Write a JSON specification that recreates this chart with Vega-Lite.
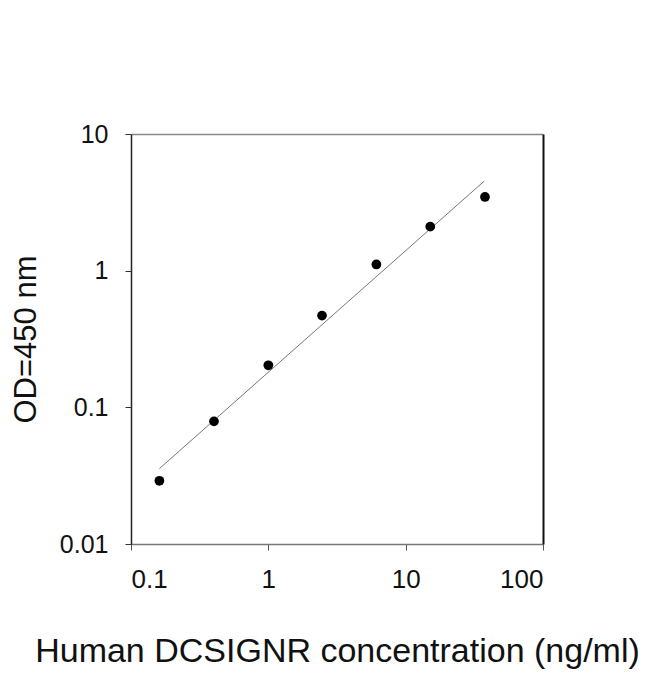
{
  "$schema": "https://vega.github.io/schema/vega-lite/v6.json",
  "width": 412,
  "height": 410,
  "autosize": {"type": "none"},
  "padding": {"left": 131, "top": 134, "right": 107, "bottom": 130},
  "background": "white",
  "config": {
    "view": {"stroke": null},
    "font": "Liberation Sans",
    "axis": {"grid": false, "labelFont": "Liberation Sans", "titleFont": "Liberation Sans", "labelColor": "#111", "titleColor": "#111", "titleFontWeight": "normal"}
  },
  "datasets": {
    "standards": [
      {"conc": 0.161, "od": 0.029},
      {"conc": 0.402, "od": 0.079},
      {"conc": 1.0, "od": 0.203},
      {"conc": 2.46, "od": 0.469},
      {"conc": 6.12, "od": 1.11},
      {"conc": 15.1, "od": 2.1},
      {"conc": 37.8, "od": 3.46}
    ],
    "fit": [
      {"conc": 0.161, "od": 0.0356},
      {"conc": 37.4, "od": 4.53}
    ]
  },
  "layer": [
    {
      "data": {"name": "fit"},
      "mark": {"type": "line", "color": "#777", "strokeWidth": 1},
      "encoding": {
        "x": {
          "field": "conc", "type": "quantitative",
          "scale": {"type": "log", "domain": [0.1, 100], "nice": false},
          "axis": {"orient": "top", "ticks": false, "labels": false, "title": null, "domainColor": "#888", "domainWidth": 1.5}
        },
        "y": {
          "field": "od", "type": "quantitative",
          "scale": {"type": "log", "domain": [0.01, 10], "nice": false},
          "axis": {"orient": "right", "ticks": false, "labels": false, "title": null, "domainColor": "#111", "domainWidth": 2}
        }
      }
    },
    {
      "data": {"name": "standards"},
      "mark": {"type": "circle", "color": "black", "opacity": 1, "size": 95},
      "encoding": {
        "x": {
          "field": "conc", "type": "quantitative",
          "scale": {"type": "log", "domain": [0.1, 100], "nice": false},
          "axis": {
            "orient": "bottom",
            "values": [0.1, 1, 10, 100],
            "format": "~g",
            "title": "Human DCSIGNR concentration (ng/ml)",
            "titleFontSize": 34,
            "titleBaseline": "alphabetic",
            "titleY": 117,
            "labelFontSize": 26,
            "labelPadding": 16,
            "tickSize": 6,
            "tickColor": "#555",
            "domainColor": "#777",
            "domainWidth": 1.5
          }
        },
        "y": {
          "field": "od", "type": "quantitative",
          "scale": {"type": "log", "domain": [0.01, 10], "nice": false},
          "axis": {
            "orient": "left",
            "values": [0.01, 0.1, 1, 10],
            "format": "~g",
            "title": "OD=450 nm",
            "titleFontSize": 31,
            "titleBaseline": "alphabetic",
            "titleX": -96,
            "labelFontSize": 25,
            "labelPadding": 17,
            "tickSize": 6,
            "tickColor": "#333",
            "domainColor": "#222",
            "domainWidth": 1.5
          }
        }
      }
    }
  ],
  "resolve": {"axis": {"x": "independent", "y": "independent"}}
}
